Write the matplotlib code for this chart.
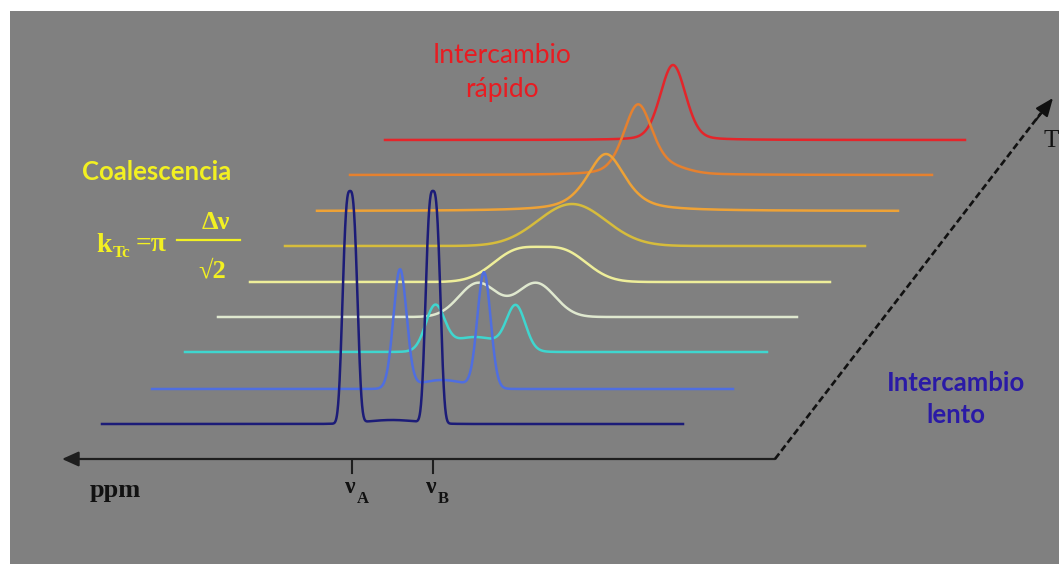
import numpy as np
import matplotlib
matplotlib.use("Agg")
import matplotlib.pyplot as plt
from matplotlib.patches import Rectangle, FancyArrowPatch

# ---------------- data (pixel units) ----------------
trace_colors = ['#1c1c78', '#4f6ee0', '#3fd6cf', '#dfe8cf', '#eeee9a',
                '#d6bc3c', '#eea236', '#e5812f', '#e4252a']
trace_start_x = [102, 152, 185, 218, 250, 285, 317, 350, 385]
trace_end_x = [683, 733, 767, 797, 830, 865, 898, 932, 965]
trace_base_y = [424, 389, 352, 317, 282, 246, 211, 175, 140]

# peaks: (offset from trace start, height, fwhm, shape power, lorentz fraction)
navy_peaks = [(248, 232, 15.5, 3, 0.0), (331, 232, 15.5, 3, 0.0), (290, 4, 60, 2, 0.0)]
blue_peaks = [(248, 118, 15.5, 2, 0.0), (332, 115, 15.5, 2, 0.0), (290, 9, 55, 2, 0.0)]
cyan_peaks = [(250, 43, 22, 2, 0.0), (331, 43, 22, 2, 0.0), (290, 15, 60, 2, 0.0)]
pale_green_peaks = [(260, 34, 44.7, 2, 0.0), (318, 34, 44.7, 2, 0.0)]
pale_yellow_peaks = [(266, 29, 56.5, 2, 0.0), (314, 29, 56.5, 2, 0.0)]
yellow_peaks = [(287, 42, 80, 2, 0.0)]
amber_peaks = [(289, 57, 46, 2, 0.6)]
orange_peaks = [(288, 70, 34, 2, 0.35), (322, 5, 40, 2, 0.0)]
red_peaks = [(288, 75, 30, 2, 0.2)]
trace_peaks = [navy_peaks, blue_peaks, cyan_peaks, pale_green_peaks,
               pale_yellow_peaks, yellow_peaks, amber_peaks, orange_peaks, red_peaks]

tick_labels = ['A', 'B']
tick_x = [352, 433]

# ---------------- figure ----------------
W, H = 1059, 564
fig = plt.figure(figsize=(W / 100, H / 100), dpi=100)
fig.patch.set_facecolor('white')
ax = fig.add_axes([0, 0, 1, 1])
ax.set_xlim(0, W)
ax.set_ylim(H, 0)
ax.axis('off')
ax.add_patch(Rectangle((10, 11), W - 10, H - 11, facecolor='#808080',
                       edgecolor='none', zorder=0))


def spectrum(u, peaks):
    y = np.zeros_like(u)
    for c, h, f, p, eta in peaks:
        r = np.abs(2 * (u - c) / f)
        g = np.exp(-np.log(2) * r ** p)
        lor = 1 / (1 + r ** 2)
        y += h * ((1 - eta) * g + eta * lor)
    return y


for i, (col, x0, x1, yb, pk) in enumerate(zip(trace_colors, trace_start_x, trace_end_x,
                                              trace_base_y, trace_peaks)):
    u = np.linspace(0, x1 - x0, 2400)
    ax.plot(x0 + u, yb - spectrum(u, pk), color=col, lw=1.8,
            solid_joinstyle='round', zorder=20 - i)

# ---------------- axes arrows ----------------
axis_col = '#1e1e1e'
ax.add_patch(FancyArrowPatch((775, 459), (62, 459),
                             arrowstyle='-|>,head_length=1.0,head_width=0.45',
                             mutation_scale=10, color=axis_col, lw=1.6,
                             shrinkA=0, shrinkB=0, zorder=30))
for tx in tick_x:
    ax.plot([tx, tx], [460, 473], color=axis_col, lw=1.5, zorder=30)

ax.plot([775, 1041], [459, 113], color='#111111', lw=1.9,
        linestyle=(0, (2.6, 1.3)), zorder=30)
ax.add_patch(FancyArrowPatch((1036, 120), (1053, 98),
                             arrowstyle='-|>,head_length=1.1,head_width=0.45',
                             mutation_scale=10, color='#111111', lw=1.5,
                             shrinkA=0, shrinkB=0, zorder=30))

serif = ['Liberation Serif', 'DejaVu Serif']
ax.text(90, 497, 'ppm', family=serif, fontweight='bold', fontsize=19,
        color='#111111', ha='left', va='baseline', zorder=31)
for tx, lab in zip(tick_x, tick_labels):
    ax.text(tx - 7, 493, 'ν', family=serif, fontweight='bold', fontsize=17,
            color='#111111', ha='left', va='baseline', zorder=31)
    ax.text(tx + 5, 503, lab, family=serif, fontweight='bold', fontsize=12,
            color='#111111', ha='left', va='baseline', zorder=31)
ax.text(1044, 147, 'T', family=serif, fontsize=18, color='#111111',
        ha='left', va='baseline', zorder=31)

# ---------------- annotations ----------------
sans = ['Lato', 'DejaVu Sans']
red_txt = '#e81c22'
ax.text(502, 63, 'Intercambio', family=sans, fontsize=19, color=red_txt,
        ha='center', va='baseline', zorder=31)
ax.text(502, 97, 'rápido', family=sans, fontsize=19, color=red_txt,
        ha='center', va='baseline', zorder=31)

yel = '#f2f022'
ax.text(157, 180, 'Coalescencia', family=sans, fontweight='bold', fontsize=18.5,
        color=yel, ha='center', va='baseline', zorder=31)
ax.text(96, 252, 'k', family=serif, fontweight='bold', fontsize=20, color=yel,
        ha='left', va='baseline', zorder=31)
ax.text(113, 257, 'Tc', family=serif, fontweight='bold', fontsize=12.5, color=yel,
        ha='left', va='baseline', zorder=31)
ax.text(136, 251, '=π', family=serif, fontweight='bold', fontsize=20, color=yel,
        ha='left', va='baseline', zorder=31)
ax.plot([177, 240], [240, 240], color=yel, lw=1.6, zorder=31)
ax.text(216, 229, 'Δν', family=serif, fontweight='bold', fontsize=19, color=yel,
        ha='center', va='baseline', zorder=31)
ax.text(212, 277, '√2', family=serif, fontweight='bold', fontsize=19, color=yel,
        ha='center', va='baseline', zorder=31)

blue_txt = '#2a1aa6'
ax.text(956, 391, 'Intercambio', family=sans, fontweight='bold', fontsize=18.5,
        color=blue_txt, ha='center', va='baseline', zorder=31)
ax.text(956, 423, 'lento', family=sans, fontweight='bold', fontsize=18.5,
        color=blue_txt, ha='center', va='baseline', zorder=31)

fig.savefig('out.png', dpi=100, facecolor=fig.get_facecolor())
